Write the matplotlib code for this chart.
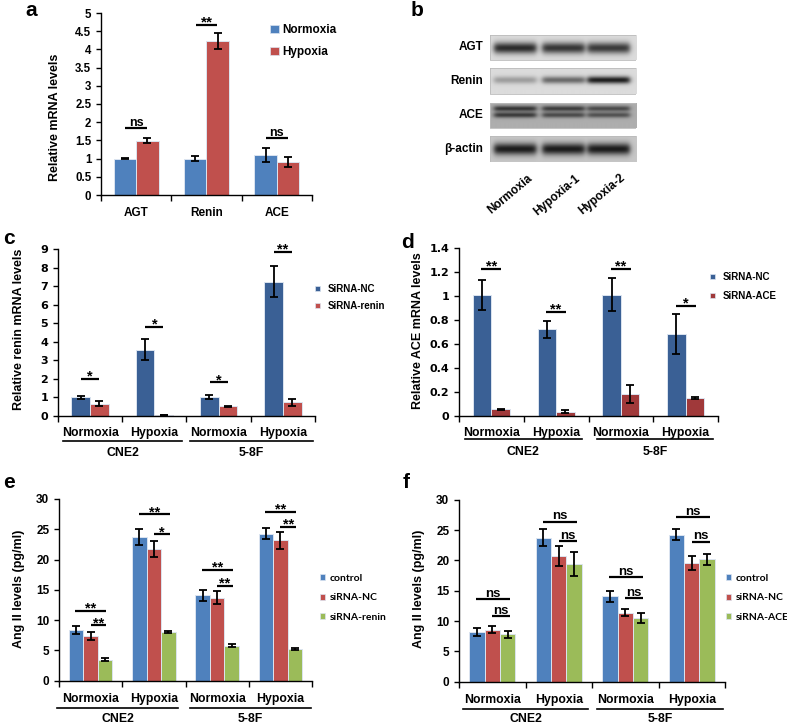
import numpy as np
import matplotlib
matplotlib.use('Agg')
import matplotlib.pyplot as plt
from matplotlib.transforms import Affine2D, blended_transform_factory
from matplotlib.patches import Patch
from matplotlib.ticker import FuncFormatter

plt.rcParams['font.family'] = ['Liberation Sans', 'DejaVu Sans']

# ---------------- data ----------------
# panel a
a_genes = ['AGT', 'Renin', 'ACE']
a_norm = [1.00, 1.00, 1.10]
a_norm_err = [0.02, 0.06, 0.18]
a_hyp = [1.49, 4.22, 0.91]
a_hyp_err = [0.07, 0.22, 0.13]
a_sig = ['ns', '**', 'ns']
a_sig_y = [1.83, 4.67, 1.56]

# panel b (western blot band intensities, 0..1 darkness)
b_lanes = ['Normoxia', 'Hypoxia-1', 'Hypoxia-2']
b_rows = ['AGT', 'Renin', 'ACE', 'β-actin']
b_agt = [0.85, 0.80, 0.78]
b_renin = [0.30, 0.55, 0.92]
b_ace_upper = [0.75, 0.70, 0.62]
b_ace_lower = [0.72, 0.62, 0.58]
b_actin = [0.92, 0.92, 0.92]

# panel c
conds = ['Normoxia', 'Hypoxia', 'Normoxia', 'Hypoxia']
groups = ['CNE2', '5-8F']
c_nc = [1.00, 3.58, 1.00, 7.25]
c_nc_err = [0.07, 0.57, 0.10, 0.85]
c_si = [0.65, 0.04, 0.50, 0.72]
c_si_err = [0.12, 0.0, 0.04, 0.18]
c_sig = ['*', '*', '*', '**']
c_sig_y = [1.97, 4.82, 1.80, 8.84]

# panel d
d_nc = [1.01, 0.72, 1.01, 0.68]
d_nc_err = [0.125, 0.07, 0.14, 0.165]
d_si = [0.055, 0.035, 0.18, 0.15]
d_si_err = [0.004, 0.012, 0.075, 0.008]
d_sig = ['**', '**', '**', '*']
d_sig_y = [1.225, 0.865, 1.225, 0.918]

# panel e
e_ctrl = [8.3, 23.7, 14.1, 24.3]
e_ctrl_err = [0.65, 1.3, 0.9, 0.9]
e_nc = [7.4, 21.7, 13.7, 23.2]
e_nc_err = [0.7, 1.3, 1.1, 1.4]
e_si = [3.5, 8.0, 5.8, 5.3]
e_si_err = [0.3, 0.2, 0.3, 0.15]
e_long = ['**', '**', '**', '**']
e_long_y = [11.5, 27.46, 18.27, 27.85]
e_short = ['**', '*', '**', '**']
e_short_y = [9.14, 24.16, 15.63, 25.43]

# panel f
f_ctrl = [8.2, 23.7, 14.1, 24.2]
f_ctrl_err = [0.6, 1.4, 0.9, 0.9]
f_nc = [8.6, 20.7, 11.4, 19.6]
f_nc_err = [0.5, 1.6, 0.6, 1.2]
f_si = [7.8, 19.4, 10.5, 20.2]
f_si_err = [0.6, 1.9, 0.9, 0.9]
f_long = ['ns', 'ns', 'ns', 'ns']
f_long_y = [13.6, 26.4, 17.2, 27.1]
f_short = ['ns', 'ns', 'ns', 'ns']
f_short_y = [10.8, 23.2, 13.85, 23.1]

# ---------------- styles ----------------
BLUE = '#4F81BD'
RED = '#C0504D'
GREEN = '#9BBB59'
DBLUE = '#3A6095'
MAROON = '#A0393A'
EDGE = '#dbe4f0'

W, H = 787, 728
fig = plt.figure(figsize=(W / 100, H / 100), dpi=100)
pix = Affine2D().scale(1.0 / W, -1.0 / H).translate(0, 1) + fig.transFigure


def rect(x0, yt, x1, yb):
    return [x0 / W, 1 - yb / H, (x1 - x0) / W, (yb - yt) / H]


def fmt(v, p):
    return f'{round(v, 4):g}'


def style_axis(ax, ncat, ymax, ystep, labels, lab_fs, lab_pad, ylabel, yl_fs,
               yl_x, yl_y, ytick_fs, ytick_family=None):
    ax.set_xlim(-0.5, ncat - 0.5)
    ax.set_ylim(0, ymax)
    for s in ['top', 'right']:
        ax.spines[s].set_visible(False)
    for s in ['left', 'bottom']:
        ax.spines[s].set_linewidth(1.0)
    ax.set_yticks(np.arange(0, ymax + ystep / 2, ystep))
    ax.yaxis.set_major_formatter(FuncFormatter(fmt))
    ax.set_xticks(range(ncat))
    ax.set_xticklabels(labels, fontsize=lab_fs, fontweight='bold')
    ax.tick_params(axis='x', which='major', length=0, pad=lab_pad)
    ax.set_xticks(np.arange(-0.5, ncat), minor=True)
    ax.tick_params(axis='x', which='minor', length=4, width=1, direction='out')
    ax.tick_params(axis='y', length=3.5, width=1, direction='out', labelsize=ytick_fs)
    for t in ax.get_yticklabels():
        t.set_fontweight('bold')
        if ytick_family:
            t.set_family(ytick_family)
    ax.set_ylabel(ylabel, fontsize=yl_fs, fontweight='bold')
    ax.yaxis.set_label_coords(yl_x, yl_y, transform=pix)


def draw_bars(ax, series, errs, colors, width):
    k = len(series)
    x = np.arange(len(series[0]))
    for i, (v, e, c) in enumerate(zip(series, errs, colors)):
        off = (i - (k - 1) / 2) * width
        ax.bar(x + off, v, width, yerr=e, color=c, edgecolor=EDGE, linewidth=0.7,
               error_kw=dict(ecolor='black', elinewidth=1.3, capsize=2.6, capthick=1.3),
               zorder=2)


def sig(ax, x0, x1, y, label, fs=8.5):
    ax.plot([x0, x1], [y, y], color='black', lw=1.6, clip_on=False, zorder=3,
            solid_capstyle='butt')
    if label == 'ns':
        dy, size = 1.5, fs
    else:
        dy, size = -1.2, fs + 2.0
    ax.annotate(label, ((x0 + x1) / 2, y), xytext=(0, dy), textcoords='offset points',
                ha='center', va='baseline', fontsize=size, fontweight='bold',
                annotation_clip=False)


def groups_under(ax, y_line, y_text, spans, names, fs=8.8):
    tr = blended_transform_factory(ax.transData, pix)
    for (a, b), n in zip(spans, names):
        ax.plot([a, b], [y_line, y_line], color='black', lw=1.2, transform=tr,
                clip_on=False)
        ax.text((a + b) / 2, y_text, n, transform=tr, ha='center', va='center',
                fontsize=fs, fontweight='bold')


def legend(ax, colors, labels, x, y, fs, spacing, hl, hh, tp, family=None):
    handles = [Patch(facecolor=c, edgecolor=EDGE, linewidth=0.5) for c in colors]
    prop = dict(size=fs, weight='bold')
    if family:
        prop['family'] = family
    ax.legend(handles, labels, loc='upper left', bbox_to_anchor=(x, y),
              bbox_transform=pix, frameon=False, prop=prop, handlelength=hl,
              handleheight=hh, handletextpad=tp, labelspacing=spacing,
              borderpad=0, borderaxespad=0)


def panel_label(x, y, s):
    fig.text(x, y, s, transform=pix, fontsize=15, fontweight='bold',
             ha='center', va='center')


# ---------------- panel a ----------------
ax = fig.add_axes(rect(101, 13, 312, 195))
draw_bars(ax, [a_norm, a_hyp], [a_norm_err, a_hyp_err], [BLUE, RED], 0.32)
style_axis(ax, 3, 5, 0.5, a_genes, 8.5, 9, 'Relative mRNA levels', 9, 61, 117, 8.3)
for i, (s, y) in enumerate(zip(a_sig, a_sig_y)):
    sig(ax, i - 0.155, i + 0.155, y, s, fs=9)
legend(ax, [BLUE, RED], ['Normoxia', 'Hypoxia'], 270, 24, 8.5, 0.85, 0.72, 0.65, 0.3)
panel_label(31, 10, 'a')

# ---------------- panel b ----------------
axb = fig.add_axes(rect(490, 35, 636, 162))
axb.set_xlim(0, 146)
axb.set_ylim(127, 0)
axb.axis('off')
lane_cx = [25, 73, 118]
row_specs = [
    # label, top, bottom, background, [(y_center, sigma, intensities)]
    ('AGT', 0, 25, 0.86, [(13, 4.0, b_agt)]),
    ('Renin', 33, 59, 0.86, [(45, 2.6, b_renin)]),
    ('ACE', 68, 93, 0.68, [(73.5, 2.0, b_ace_upper), (80, 2.0, b_ace_lower)]),
    ('β-actin', 101, 127, 0.78, [(114, 4.2, b_actin)]),
]
for name, top, bot, bg, bands in row_specs:
    ny, nx = (bot - top) * 4, 146 * 4
    yy = np.linspace(top, bot, ny)[:, None]
    xx = np.linspace(0, 146, nx)[None, :]
    img = np.full((ny, nx), bg)
    for yc, sg, ints in bands:
        for cx, inten in zip(lane_cx, ints):
            hprof = 0.5 * (np.tanh((xx - (cx - 21)) / 3.0) - np.tanh((xx - (cx + 21)) / 3.0))
            vprof = np.exp(-((yy - yc) ** 2) / (2 * sg ** 2))
            img = img - inten * (bg - 0.05) * hprof * vprof
    axb.imshow(img, cmap='gray', vmin=0, vmax=1, extent=(0, 146, bot, top),
               aspect='auto', interpolation='bilinear')
    axb.plot([0, 146, 146, 0, 0], [top, top, bot, bot, top], color='#bbbbbb', lw=0.6)
    axb.text(-7, (top + bot) / 2, name, ha='right', va='center', fontsize=8.5,
             fontweight='bold', clip_on=False)
for cx, ln in zip(lane_cx, b_lanes):
    axb.text(cx + 12, 137, ln, rotation=40, rotation_mode='anchor', ha='right',
             va='top', fontsize=8.5, fontweight='bold', clip_on=False)
axb.set_ylim(127, 0)
axb.set_xlim(0, 146)
panel_label(417, 10, 'b')

# ---------------- panel c ----------------
ax = fig.add_axes(rect(58, 249.3, 315, 415.7))
draw_bars(ax, [c_nc, c_si], [c_nc_err, c_si_err], [DBLUE, RED], 0.29)
style_axis(ax, 4, 9, 1, conds, 8.8, 8, 'Relative renin mRNA levels', 9, 25, 329, 8,
           ytick_family=['DejaVu Sans'])
for i, (s, y) in enumerate(zip(c_sig, c_sig_y)):
    sig(ax, i - 0.14, i + 0.14, y, s)
groups_under(ax, 440.7, 453, [(-0.42, 1.43), (1.55, 3.47)], groups)
legend(ax, [DBLUE, RED], ['SiRNA-NC', 'SiRNA-renin'], 315, 284, 7, 0.7, 0.5, 0.5, 0.8)
panel_label(9, 239, 'c')

# ---------------- panel d ----------------
ax = fig.add_axes(rect(459, 247.7, 718, 416))
draw_bars(ax, [d_nc, d_si], [d_nc_err, d_si_err], [DBLUE, MAROON], 0.285)
style_axis(ax, 4, 1.4, 0.2, conds, 8.8, 8, 'Relative ACE mRNA levels', 9, 424, 331, 8,
           ytick_family=['DejaVu Sans'])
for i, (s, y) in enumerate(zip(d_sig, d_sig_y)):
    sig(ax, i - 0.155, i + 0.155, y, s)
groups_under(ax, 439, 452, [(-0.41, 1.40), (1.63, 3.42)], groups)
legend(ax, [DBLUE, MAROON], ['SiRNA-NC', 'SiRNA-ACE'], 710, 272, 7, 0.9, 0.5, 0.5, 0.8)
panel_label(408, 243, 'd')

# ---------------- panel e ----------------
ax = fig.add_axes(rect(59, 499, 312, 680.7))
draw_bars(ax, [e_ctrl, e_nc, e_si], [e_ctrl_err, e_nc_err, e_si_err],
          [BLUE, RED, GREEN], 0.23)
style_axis(ax, 4, 30, 5, conds, 8.8, 9, 'Ang II levels (pg/ml)', 9, 25, 589, 8.5)
for i in range(4):
    sig(ax, i - 0.24, i + 0.25, e_long_y[i], e_long[i])
    sig(ax, i, i + 0.25, e_short_y[i], e_short[i])
groups_under(ax, 707.7, 718.5, [(-0.53, 1.38), (1.57, 3.48)], groups)
legend(ax, [BLUE, RED, GREEN], ['control', 'siRNA-NC', 'siRNA-renin'], 320, 574,
       7.5, 1.0, 0.5, 0.55, 0.4, family=['Lato', 'DejaVu Sans'])
panel_label(9, 483, 'e')

# ---------------- panel f ----------------
ax = fig.add_axes(rect(459, 499.7, 725, 681.7))
draw_bars(ax, [f_ctrl, f_nc, f_si], [f_ctrl_err, f_nc_err, f_si_err],
          [BLUE, RED, GREEN], 0.23)
style_axis(ax, 4, 30, 5, conds, 8.8, 9, 'Ang II levels (pg/ml)', 9, 425, 589, 8.5)
for i in range(4):
    sig(ax, i - 0.24, i + 0.27, f_long_y[i], f_long[i], fs=9.5)
    sig(ax, i, i + 0.27, f_short_y[i], f_short[i], fs=9.5)
groups_under(ax, 709, 719.5, [(-0.44, 1.44), (1.57, 3.47)], groups)
legend(ax, [BLUE, RED, GREEN], ['control', 'siRNA-NC', 'siRNA-ACE'], 726, 574,
       7.5, 1.0, 0.5, 0.55, 0.4, family=['Lato', 'DejaVu Sans'])
panel_label(406, 483, 'f')

fig.savefig('out.png', dpi=100)
